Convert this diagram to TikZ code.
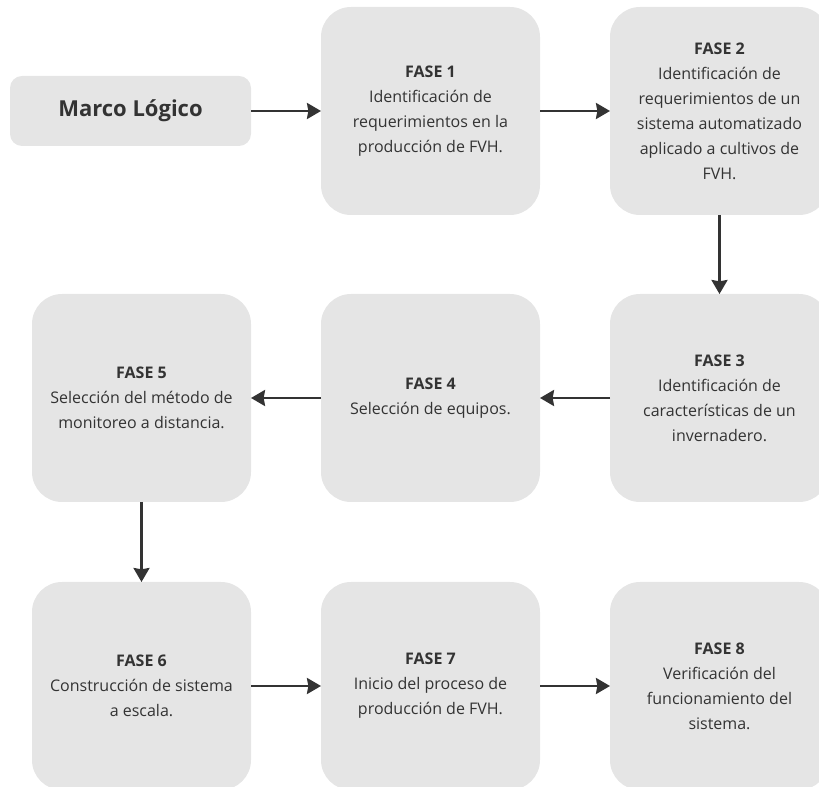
\documentclass[tikz,border=0pt]{standalone}
\usepackage{fontspec}
\setmainfont{Open Sans}
\usetikzlibrary{arrows.meta}
\definecolor{caja}{HTML}{E5E5E5}
\definecolor{tinta}{HTML}{333333}

\begin{document}
\begin{tikzpicture}[x=0.75pt,y=-0.75pt,
    fase/.style={fill=caja,rounded corners=22.5pt,minimum width=164.25pt,minimum height=156pt,
        inner sep=0pt,outer sep=0pt,align=center,text=tinta,font=\fontsize{12}{18.75}\selectfont},
    marco/.style={fill=caja,rounded corners=9pt,minimum width=180.75pt,minimum height=52.5pt,
        inner sep=0pt,outer sep=0pt,text=tinta,font=\fontsize{16.5}{20}\selectfont\bfseries},
    flecha/.style={draw=tinta,line width=1.9pt,-{Stealth[length=10.5pt,width=12pt,inset=1pt]}}]
	\useasboundingbox (0,0) rectangle (819,787);
	\clip (0,0) rectangle (819,787);

	\node[marco] (marco) at (130.5,111) {Marco Lógico};

	% primera fila
	\node[fase] (f1) at (430.5,111) {\textbf{FASE 1}\\Identificación de\\requerimientos en la\\producción de FVH.};
	\node[fase] (f2) at (719.5,111) {\textbf{FASE 2}\\Identificación de\\requerimientos de un\\sistema automatizado\\aplicado a cultivos de\\FVH.};

	% segunda fila
	\node[fase] (f3) at (719.5,398) {\textbf{FASE 3}\\Identificación de\\características de un\\invernadero.};
	\node[fase] (f4) at (430.5,398) {\textbf{FASE 4}\\Selección de equipos.};
	\node[fase] (f5) at (141.5,398) {\textbf{FASE 5}\\Selección del método de\\monitoreo a distancia.};

	% tercera fila
	\node[fase] (f6) at (141.5,686) {\textbf{FASE 6}\\Construcción de sistema\\a escala.};
	\node[fase] (f7) at (430.5,686) {\textbf{FASE 7}\\Inicio del proceso de\\producción de FVH.};
	\node[fase] (f8) at (719.5,686) {\textbf{FASE 8}\\Verificación del\\funcionamiento del\\sistema.};

	\draw[flecha] (marco) -- (f1);
	\draw[flecha] (f1) -- (f2);
	\draw[flecha] (f2) -- (f3);
	\draw[flecha] (f3) -- (f4);
	\draw[flecha] (f4) -- (f5);
	\draw[flecha] (f5) -- (f6);
	\draw[flecha] (f6) -- (f7);
	\draw[flecha] (f7) -- (f8);

\end{tikzpicture}
\end{document}
